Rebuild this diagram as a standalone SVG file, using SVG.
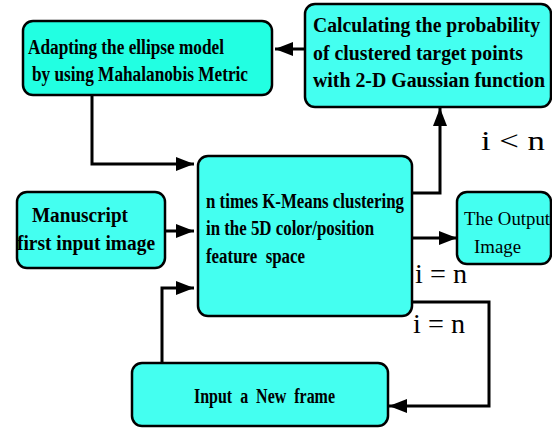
<svg xmlns="http://www.w3.org/2000/svg" width="552" height="429" viewBox="0 0 552 429">
<style>
.box{fill:#44fff0;stroke:#000;stroke-width:2.5}
.b1{fill:#22ffe2}
.t{font-family:"Liberation Serif","Times New Roman",serif;font-weight:bold;font-size:20px;fill:#000}
.r{font-family:"Liberation Serif","Times New Roman",serif;font-size:19px;fill:#000}
.lbl{font-family:"Liberation Serif","Times New Roman",serif;font-size:28px;fill:#000}
.c{fill:none;stroke:#000;stroke-width:3}
</style>
<defs>
<marker id="ah" markerUnits="userSpaceOnUse" markerWidth="20" markerHeight="16" refX="18" refY="7" orient="auto">
<path d="M0,0 L18,7 L0,14 Z" fill="#000"/>
</marker>
</defs>
<rect width="552" height="429" fill="#fff"/>
<g id="connectors">
<path class="c" d="M305,49 H275" marker-end="url(#ah)"/>
<path class="c" d="M92,95 V164 H194" marker-end="url(#ah)"/>
<path class="c" d="M165,231 H194" marker-end="url(#ah)"/>
<path class="c" d="M412,193 H440 V108" marker-end="url(#ah)"/>
<path class="c" d="M412,238 H457" marker-end="url(#ah)"/>
<path class="c" d="M412,302 H489 V406 H389" marker-end="url(#ah)"/>
<path class="c" d="M162,363 V288 H194" marker-end="url(#ah)"/>
</g>
<g id="adapt">
<rect class="box b1" x="23" y="21" width="249" height="74" rx="10"/>
<text class="t" x="28" y="54" textLength="196" lengthAdjust="spacingAndGlyphs">Adapting the ellipse model</text>
<text class="t" x="32" y="81" textLength="216" lengthAdjust="spacingAndGlyphs">by using Mahalanobis Metric</text>
</g>
<g id="calc">
<rect class="box" x="305" y="4" width="246" height="103" rx="10"/>
<text class="t" x="313" y="32" textLength="227" lengthAdjust="spacingAndGlyphs">Calculating the probability</text>
<text class="t" x="313" y="60" textLength="210" lengthAdjust="spacingAndGlyphs">of clustered target points</text>
<text class="t" x="313" y="87" textLength="232" lengthAdjust="spacingAndGlyphs">with 2-D Gaussian function</text>
</g>
<g id="kmeans">
<rect class="box" x="198" y="156" width="214" height="160" rx="10"/>
<text class="t" x="206" y="208" textLength="198" lengthAdjust="spacingAndGlyphs">n times K-Means clustering</text>
<text class="t" x="206" y="235" textLength="168" lengthAdjust="spacingAndGlyphs">in the 5D color/position</text>
<text class="t" x="206" y="263" textLength="99" lengthAdjust="spacingAndGlyphs" xml:space="preserve">feature  space</text>
</g>
<g id="manuscript">
<rect class="box" x="17" y="192" width="148" height="76" rx="10"/>
<text class="t" x="32" y="222" textLength="96" lengthAdjust="spacingAndGlyphs">Manuscript</text>
<text class="t" x="17" y="250" textLength="138" lengthAdjust="spacingAndGlyphs">first input image</text>
</g>
<g id="output">
<rect class="box" x="457" y="192" width="94" height="72" rx="10"/>
<text class="r" x="464" y="225" textLength="86" lengthAdjust="spacingAndGlyphs">The Output</text>
<text class="r" x="474" y="253" textLength="47" lengthAdjust="spacingAndGlyphs">Image</text>
</g>
<g id="newframe">
<rect class="box" x="132" y="363" width="256" height="63" rx="10"/>
<text class="t" x="194" y="403" textLength="141" lengthAdjust="spacingAndGlyphs" xml:space="preserve">Input  a  New  frame</text>
</g>
<g id="labels">
<text class="lbl" x="481" y="150" textLength="64" lengthAdjust="spacingAndGlyphs">i &lt; n</text>
<text class="lbl" x="415" y="283" textLength="52" lengthAdjust="spacingAndGlyphs">i = n</text>
<text class="lbl" x="413" y="333" textLength="52" lengthAdjust="spacingAndGlyphs">i = n</text>
</g>
</svg>
